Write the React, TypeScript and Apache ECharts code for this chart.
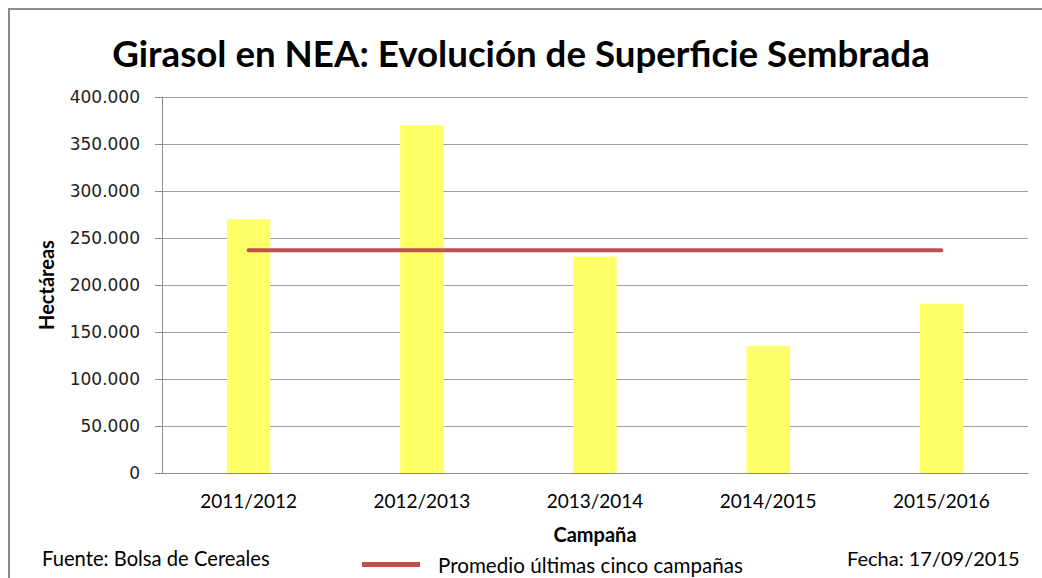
import React, { useEffect, useRef } from "react";
import * as echarts from "echarts";

const categories = ["2011/2012", "2012/2013", "2013/2014", "2014/2015", "2015/2016"];
const superficie = [270000, 370000, 230000, 135000, 180000];
const promedio = [237000, 237000, 237000, 237000, 237000];
const yTicks = { min: 0, max: 400000, interval: 50000 };

const titleText = "Girasol en NEA: Evolución de Superficie Sembrada";
const sourceText = "Fuente: Bolsa de Cereales";
const dateText = "Fecha: 17/09/2015";
const lineName = "Promedio últimas cinco campañas";

const fmt = (v: number) => (v === 0 ? "0" : v.toLocaleString("de-DE"));

export default function App() {
  const ref = useRef<HTMLDivElement>(null);
  useEffect(() => {
    document.body.style.margin = "0";
    const chart = echarts.init(ref.current!, null, { renderer: "svg" });
    chart.setOption({
      animation: false,
      backgroundColor: "#ffffff",
      title: {
        text: titleText,
        left: "center",
        top: 29,
        textStyle: { fontFamily: "Lato", fontWeight: "bold", fontSize: 36.7, color: "#000" },
      },
      grid: { left: 162, right: 14, top: 97, bottom: 105, containLabel: false },
      xAxis: {
        type: "category",
        data: categories,
        name: "Campaña",
        nameLocation: "middle",
        nameGap: 51,
        nameTextStyle: { fontFamily: "Lato", fontWeight: "bold", fontSize: 20, color: "#000" },
        axisLine: { lineStyle: { color: "#8c8c8c", width: 1 } },
        axisTick: { show: false },
        axisLabel: { fontFamily: "Lato", fontSize: 19, color: "#000", margin: 18 },
      },
      yAxis: {
        type: "value",
        min: yTicks.min,
        max: yTicks.max,
        interval: yTicks.interval,
        name: "Hectáreas",
        nameLocation: "middle",
        nameGap: 106,
        nameRotate: 90,
        nameTextStyle: { fontFamily: "Lato", fontWeight: "bold", fontSize: 20, color: "#000" },
        axisLine: { show: true, lineStyle: { color: "#8c8c8c", width: 1 } },
        axisTick: { show: true, length: 7, lineStyle: { color: "#8c8c8c" } },
        splitLine: { lineStyle: { color: "#a0a0a0", width: 1 } },
        axisLabel: { fontFamily: "DejaVu Sans", fontSize: 17, color: "#222", margin: 22, formatter: fmt },
      },
      legend: {
        data: [{ name: lineName, icon: "rect" }],
        left: 357,
        top: 549,
        itemWidth: 58,
        itemHeight: 5,
        textStyle: { fontFamily: "Lato", fontSize: 20.6, color: "#000", padding: [0, 0, 0, 13] },
      },
      graphic: [
        {
          type: "rect",
          shape: { x: 9, y: 9, width: 1100, height: 700 },
          style: { fill: "none", stroke: "#8a8a8a", lineWidth: 2 },
          silent: true,
        },
        {
          type: "text",
          left: 42,
          top: 548,
          style: { text: sourceText, font: "20.2px Lato", fill: "#000" },
        },
        {
          type: "text",
          left: 847,
          top: 548,
          style: { text: dateText, font: "20px Lato", fill: "#000" },
        },
      ],
      series: [
        {
          type: "bar",
          data: superficie,
          barWidth: "25%",
          itemStyle: { color: "#ffff66" },
        },
        {
          type: "line",
          name: lineName,
          data: promedio,
          symbol: "none",
          lineStyle: { color: "#c0504d", width: 4, cap: "round" },
          itemStyle: { color: "#c0504d" },
        },
      ],
    });
    return () => chart.dispose();
  }, []);
  return <div ref={ref} style={{ width: 1042, height: 578 }} />;
}
